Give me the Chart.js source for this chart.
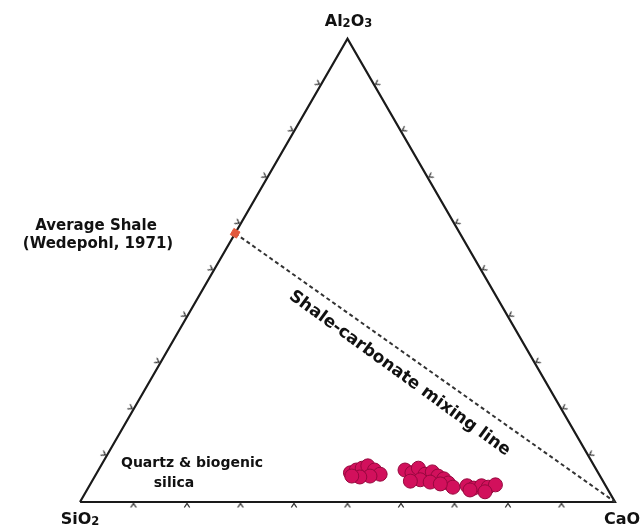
<!DOCTYPE html>
<html>
<head>
<meta charset="utf-8">
<script src="https://cdn.jsdelivr.net/npm/chart.js@4"></script>
<style>
  html, body { margin: 0; padding: 0; background: #fff; }
  canvas { display: block; }
</style>
</head>
<body>
<canvas id="ternary" width="644" height="526"></canvas>

<script>
  // compositions are in % (SiO2, Al2O3, CaO)
  const sampleSiO2  = [46.3, 44.9, 43.6, 42.3, 41.5, 40.9, 43.0, 45.0, 46.4,
                       35.8, 34.8, 33.1, 32.5, 30.9, 30.3, 29.5, 29.1, 28.7, 34.0, 32.4, 36.0, 30.7,
                       25.9, 24.9, 23.2, 22.1, 20.5, 25.8, 23.2];
  const sampleAl2O3 = [6.3, 6.9, 7.3, 7.8, 6.9, 6.0, 5.6, 5.4, 5.6,
                       6.9, 6.3, 7.3, 6.0, 6.5, 5.6, 5.0, 4.1, 3.2, 4.8, 4.3, 4.5, 3.9,
                       3.5, 3.0, 3.5, 3.2, 3.7, 2.6, 2.2];
  const sampleCaO   = [47.4, 48.2, 49.1, 49.9, 51.6, 53.1, 51.4, 49.6, 48.0,
                       57.3, 58.9, 59.6, 61.5, 62.6, 64.1, 65.5, 66.8, 68.1, 61.2, 63.3, 59.5, 65.4,
                       70.6, 72.1, 73.3, 74.7, 75.8, 71.6, 74.6];

  // Average shale (Wedepohl, 1971), plotted on the SiO2-Al2O3 side
  const shaleSiO2 = [42];
  const shaleAl2O3 = [58];
  const shaleCaO = [0];

  // triangle corners: SiO2, CaO, Al2O3, back to SiO2
  const cornerSiO2  = [100, 0, 0, 100];
  const cornerAl2O3 = [0, 0, 100, 0];
  const cornerCaO   = [0, 100, 0, 0];

  const tickSteps = [10, 20, 30, 40, 50, 60, 70, 80, 90];

  const H = Math.sqrt(3) / 2;
  function tern(s, a, c) {
    const t = s + a + c;
    return { x: (c + a / 2) / t, y: (a / t) * H };
  }
  function points(s, a, c) {
    return s.map((v, i) => tern(v, a[i], c[i]));
  }

  // small chevron used for the edge ticks
  function chevron() {
    const cv = document.createElement('canvas');
    cv.width = 14; cv.height = 14;
    const g = cv.getContext('2d');
    g.strokeStyle = '#333';
    g.lineWidth = 1.3;
    g.beginPath();
    g.moveTo(4.3, 12.5);
    g.lineTo(7, 8.5);
    g.lineTo(9.7, 12.5);
    g.stroke();
    return cv;
  }
  const tickMark = chevron();

  const bottomTicks = tickSteps.map(k => tern(100 - k, 0, k));
  const leftTicks = tickSteps.map(k => tern(100 - k, k, 0));
  const rightTicks = tickSteps.map(k => tern(0, k, 100 - k));

  const outline = points(cornerSiO2, cornerAl2O3, cornerCaO);
  const shale = points(shaleSiO2, shaleAl2O3, shaleCaO);
  const mixing = [shale[0], tern(0, 0, 100)];
  const samples = points(sampleSiO2, sampleAl2O3, sampleCaO);

  const FONT = '"DejaVu Sans", sans-serif';

  function chem(ctx, parts, cx, base, size) {
    let w = 0;
    parts.forEach(p => {
      ctx.font = 'bold ' + (p.sub ? size * 0.72 : size) + 'px ' + FONT;
      w += ctx.measureText(p.t).width;
    });
    let x = cx - w / 2;
    parts.forEach(p => {
      ctx.font = 'bold ' + (p.sub ? size * 0.72 : size) + 'px ' + FONT;
      ctx.fillText(p.t, x, base + (p.sub ? 1 : 0));
      x += ctx.measureText(p.t).width;
    });
  }

  const labels = {
    id: 'labels',
    afterDatasetsDraw(chart) {
      const ctx = chart.ctx;
      const xs = chart.scales.x, ys = chart.scales.y;
      const px = p => ({ x: xs.getPixelForValue(p.x), y: ys.getPixelForValue(p.y) });
      const top = px(outline[2]), left = px(outline[0]), right = px(outline[1]);
      ctx.save();
      ctx.fillStyle = '#111';
      ctx.textAlign = 'left';
      ctx.textBaseline = 'alphabetic';
      chem(ctx, [{t: 'Al'}, {t: '2', sub: true}, {t: 'O'}, {t: '3', sub: true}], top.x + 1, top.y - 13, 16);
      chem(ctx, [{t: 'SiO'}, {t: '2', sub: true}], left.x, left.y + 22, 16);
      chem(ctx, [{t: 'CaO'}], right.x + 7, right.y + 22, 16);

      ctx.textAlign = 'center';
      ctx.font = 'bold 15px ' + FONT;
      ctx.fillText('Average Shale', 96, 230);
      ctx.fillText('(Wedepohl, 1971)', 98, 248);
      ctx.font = 'bold 14px ' + FONT;
      ctx.fillText('Quartz & biogenic', 192, 467);
      ctx.fillText('silica', 174, 487);

      ctx.translate(397, 377);
      ctx.rotate(36 * Math.PI / 180);
      ctx.font = 'bold 17px ' + FONT;
      ctx.fillText('Shale-carbonate mixing line', 0, 0);
      ctx.restore();
    }
  };

  new Chart(document.getElementById('ternary'), {
    type: 'scatter',
    data: {
      datasets: [
        {
          data: samples,
          backgroundColor: 'rgb(210,16,92)',
          borderColor: 'rgb(150,8,62)',
          borderWidth: 1,
          pointRadius: 7
        },
        {
          data: shale,
          pointStyle: 'rect',
          rotation: 30,
          backgroundColor: '#e2583c',
          borderColor: '#e2583c',
          pointRadius: 5
        },
        {
          data: mixing,
          showLine: true,
          borderColor: '#333',
          borderWidth: 2,
          borderDash: [4, 3],
          pointRadius: 0
        },
        {
          data: bottomTicks,
          pointStyle: tickMark,
          rotation: 0
        },
        {
          data: leftTicks,
          pointStyle: tickMark,
          rotation: 120
        },
        {
          data: rightTicks,
          pointStyle: tickMark,
          rotation: 240
        },
        {
          data: outline,
          showLine: true,
          borderColor: '#1a1a1a',
          borderWidth: 2.2,
          pointRadius: 0
        }
      ]
    },
    options: {
      responsive: false,
      animation: false,
      events: [],
      layout: { padding: 0, autoPadding: false },
      plugins: { legend: { display: false }, tooltip: { enabled: false } },
      scales: {
        x: { type: 'linear', display: false, min: -80 / 535, max: 564 / 535 },
        y: { type: 'linear', display: false, min: -24 / 535, max: 502 / 535 }
      }
    },
    plugins: [labels]
  });
</script>
</body>
</html>
